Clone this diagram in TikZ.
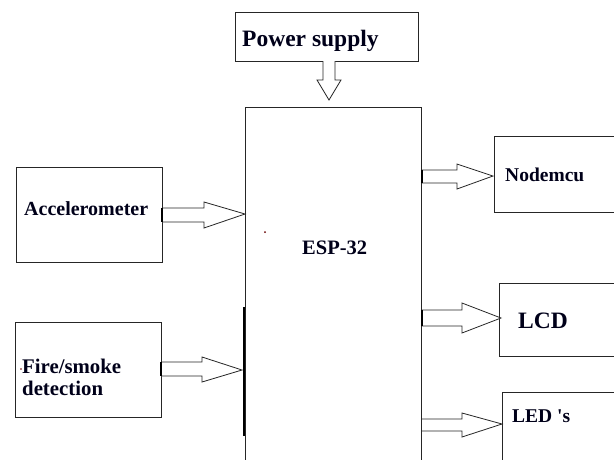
\documentclass[tikz,border=0pt]{standalone}
\usepackage{fontspec}
\setmainfont{Liberation Serif}
\begin{document}
\begin{tikzpicture}[x=1pt,y=-1pt,
  box/.style={draw=black!85,line width=0.9pt},
  blockarrow/.style={draw=black!85,line width=0.8pt,fill=white,line join=miter},
  lbl/.style={anchor=base west,inner sep=0pt,font=\bfseries,text=black!90!blue}]
\useasboundingbox (0,0) rectangle (614,459);
\clip (0,0) rectangle (614,459);
% boxes
\draw[box] (235,12) rectangle (418,61);
\draw[box] (245,107) rectangle (421,480);
\draw[box] (16,167) rectangle (162,262);
\draw[box] (15,322) rectangle (161,417);
\draw[box] (494,136) rectangle (630,212);
\draw[box] (499,283) rectangle (630,356);
\draw[box] (502,392) rectangle (630,480);
% thick segment on ESP left edge
\draw[line width=2.4pt,black] (244,307) -- (244,436);
% block arrows
\draw[blockarrow] (323,61) -- (323,80) -- (317,80) -- (329,100) -- (341,80) -- (335,80) -- (335,61);
\draw[blockarrow] (162,208) -- (204,208) -- (204,202) -- (245,214) -- (204,228) -- (204,222) -- (162,222);
\draw[blockarrow] (161,362) -- (202,362) -- (202,357) -- (242,370) -- (202,382) -- (202,376) -- (161,376);
\draw[blockarrow] (422,170) -- (457,170) -- (457,164) -- (493,176) -- (457,189) -- (457,183) -- (422,183);
\draw[blockarrow] (422,310) -- (462,310) -- (462,303) -- (501,318) -- (462,333) -- (462,326) -- (422,326);
\draw[blockarrow] (422,419) -- (462,419) -- (462,413) -- (502,424) -- (462,437) -- (462,431) -- (422,431);
% thick arrow bases
\draw[line width=2pt,black] (162,208) -- (162,222);
\draw[line width=2pt,black] (161,362) -- (161,376);
\draw[line width=2pt,black] (422,170) -- (422,183);
\draw[line width=2pt,black] (422,310) -- (422,326);
% stray dots
\fill[black!60!red] (265,232) circle (1pt);
\fill[black!60!red] (21,369) circle (0.8pt);
% labels
\node[lbl,font=\bfseries\fontsize{23.5}{26}\selectfont] (ps) at (242,46) {Power supply};
\node[lbl,font=\bfseries\fontsize{20}{22}\selectfont] (acc) at (24,215) {Accelerometer};
\node[lbl,font=\bfseries\fontsize{20.8}{22}\selectfont] (fire1) at (22,373) {Fire/smoke};
\node[lbl,font=\bfseries\fontsize{20.8}{22}\selectfont] (fire2) at (22,395) {detection};
\node[lbl,font=\bfseries\fontsize{20.5}{22}\selectfont] (esp) at (302,254) {ESP-32};
\node[lbl,font=\bfseries\fontsize{19.5}{22}\selectfont] (node) at (505,181) {Nodemcu};
\node[lbl,font=\bfseries\fontsize{23.5}{26}\selectfont] (lcd) at (518,328) {LCD};
\node[lbl,font=\bfseries\fontsize{19.5}{22}\selectfont\addfontfeatures{Ligatures=TeXOff}] (led) at (512,422) {LED 's};
\end{tikzpicture}
\end{document}
